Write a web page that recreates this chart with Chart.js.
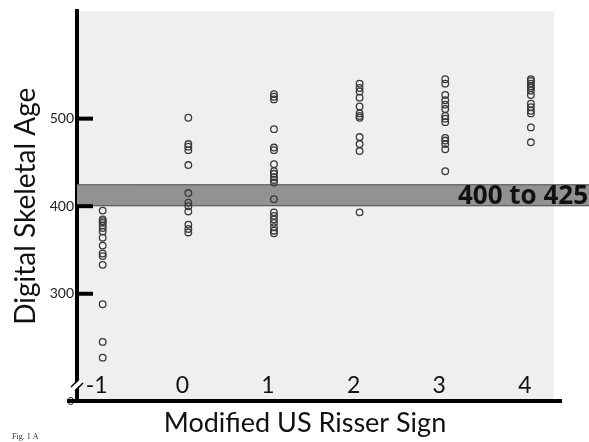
<!DOCTYPE html>
<html>
<head>
<meta charset="utf-8">
<script src="https://cdn.jsdelivr.net/npm/chart.js@4.4.1/dist/chart.umd.min.js"></script>
<style>
  html, body { margin: 0; padding: 0; background: #fff; }
  #wrap { width: 589px; height: 442px; position: relative; }
</style>
</head>
<body>
<div id="wrap"><canvas id="chart"></canvas></div>
<script>
// Risser categories and digital skeletal age
const categories = [-1, 0, 1, 2, 3, 4];
const dsaRisserM1 = [395, 385, 383, 381, 378, 375, 371, 364, 355, 346, 343, 333, 288, 245, 227];
const dsaRisser0 = [501, 471, 468, 464, 447, 415, 404, 400, 394, 379, 374, 370];
const dsaRisser1 = [528, 525, 522, 488, 467, 464, 448, 440, 437, 433, 430, 427, 408, 393, 389, 385, 381, 376, 372, 369];
const dsaRisser2 = [540, 535, 531, 524, 514, 506, 503, 501, 479, 471, 463, 393];
const dsaRisser3 = [545, 540, 527, 521, 516, 511, 503, 500, 496, 478, 475, 471, 465, 440];
const dsaRisser4 = [545, 543, 540, 537, 535, 532, 527, 517, 513, 509, 506, 490, 473];
const yTicks = [300, 400, 500];
const yBottom = 177.5;   // broken axis, labelled 0
const bandRange = [400, 425];
const bandLabel = '400 to 425';
const xTitle = 'Modified US Risser Sign';

const series = [dsaRisserM1, dsaRisser0, dsaRisser1, dsaRisser2, dsaRisser3, dsaRisser4];
const points = [];
series.forEach((vals, i) => vals.forEach(v => points.push({ x: categories[i], y: v })));

const figurePlugin = {
  id: 'figure',
  beforeDraw(chart) {
    const { ctx, chartArea: a } = chart;
    ctx.save();
    ctx.fillStyle = '#efefef';
    ctx.fillRect(a.left, a.top, a.right - a.left, a.bottom - a.top);
    ctx.restore();
  },
  beforeDatasetsDraw(chart) {
    const { ctx, chartArea: a, scales: { y } } = chart;
    const yTop = y.getPixelForValue(bandRange[1]);
    const yBot = y.getPixelForValue(bandRange[0]);
    ctx.save();
    ctx.fillStyle = '#929292';
    ctx.fillRect(a.left, yTop, chart.width - a.left, yBot - yTop);
    ctx.strokeStyle = '#555';
    ctx.lineWidth = 1;
    ctx.beginPath();
    ctx.moveTo(a.left, yTop + 0.5); ctx.lineTo(chart.width, yTop + 0.5);
    ctx.moveTo(a.left, yBot - 0.5); ctx.lineTo(chart.width, yBot - 0.5);
    ctx.stroke();
    ctx.restore();
  },
  afterDraw(chart) {
    const { ctx, chartArea: a, scales: { x, y } } = chart;
    ctx.save();
    // band label
    const yTop = y.getPixelForValue(bandRange[1]);
    const yBot = y.getPixelForValue(bandRange[0]);
    ctx.fillStyle = '#111';
    ctx.font = 'bold 26px "Open Sans"';
    ctx.textAlign = 'right';
    ctx.textBaseline = 'middle';
    ctx.fillText(bandLabel, chart.width - 1, (yTop + yBot) / 2 + 1);

    // x axis line
    ctx.strokeStyle = '#000';
    ctx.lineWidth = 4;
    ctx.beginPath();
    ctx.moveTo(a.left - 10, a.bottom);
    ctx.lineTo(a.right + 8, a.bottom);
    ctx.stroke();

    // inward tick marks
    yTicks.forEach(v => {
      const py = y.getPixelForValue(v);
      ctx.beginPath();
      ctx.moveTo(a.left, py);
      ctx.lineTo(a.left + 16, py);
      ctx.stroke();
    });

    // axis break
    const by = a.bottom - 16;
    ctx.strokeStyle = '#fff';
    ctx.lineWidth = 4;
    ctx.beginPath();
    ctx.moveTo(a.left - 5, by + 5); ctx.lineTo(a.left + 5, by - 5);
    ctx.stroke();
    ctx.strokeStyle = '#000';
    ctx.lineWidth = 1.5;
    ctx.beginPath();
    ctx.moveTo(a.left - 6, by + 2); ctx.lineTo(a.left + 2, by - 6);
    ctx.moveTo(a.left - 2, by + 6); ctx.lineTo(a.left + 6, by - 2);
    ctx.stroke();

    // category labels, drawn inside the plot above the axis
    ctx.fillStyle = '#111';
    ctx.font = '23px Lato';
    ctx.textAlign = 'center';
    ctx.textBaseline = 'middle';
    categories.forEach(c => {
      ctx.fillText(String(c), x.getPixelForValue(c) - 6, a.bottom - 15);
    });

    // x axis title
    ctx.font = '27px Lato';
    ctx.textBaseline = 'alphabetic';
    ctx.fillText(xTitle, a.left + 228, 432);

    // figure caption
    ctx.font = '8px "Liberation Serif"';
    ctx.textAlign = 'left';
    ctx.fillStyle = '#333';
    ctx.fillText('Fig. 1 A', 12, 439);
    ctx.restore();
  }
};

new Chart(document.getElementById('chart'), {
  type: 'scatter',
  data: {
    datasets: [{
      label: 'Digital Skeletal Age',
      data: points,
      pointRadius: 3.3,
      pointHoverRadius: 3.3,
      borderWidth: 1.3,
      borderColor: '#3a3a3a',
      backgroundColor: 'rgba(0,0,0,0)',
      clip: false
    }]
  },
  options: {
    responsive: true,
    maintainAspectRatio: false,
    animation: false,
    events: [],
    layout: { padding: { top: 5, right: 35, left: 0, bottom: 0 } },
    plugins: { legend: { display: false }, tooltip: { enabled: false } },
    scales: {
      x: {
        type: 'linear',
        min: -1.3,
        max: 4.27,
        grid: { display: false, drawTicks: false },
        border: { display: false },
        ticks: { display: false },
        afterFit: s => { s.height = 41; }
      },
      y: {
        min: yBottom,
        max: 622.5,
        afterBuildTicks: s => { s.ticks = [yBottom, ...yTicks].map(v => ({ value: v })); },
        grid: { display: false, drawTicks: false },
        border: { display: true, width: 4, color: '#000' },
        ticks: {
          padding: 3,
          color: '#222',
          callback: v => (v < 200 ? '0' : String(v)),
          font: c => ({ family: 'Lato', size: c.tick && c.tick.value < 200 ? 11 : 14 })
        },
        title: {
          display: true,
          text: 'Digital Skeletal Age',
          font: { family: 'Lato', size: 28 },
          color: '#111',
          padding: { top: 9, bottom: 0 }
        },
        afterFit: s => { s.width = 77; }
      }
    }
  },
  plugins: [figurePlugin]
});
</script>
</body>
</html>
